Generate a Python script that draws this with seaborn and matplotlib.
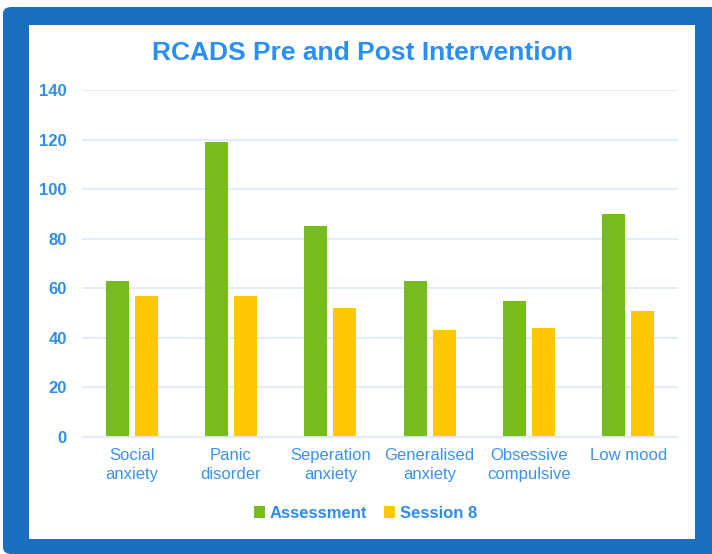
import matplotlib
matplotlib.use("Agg")
import matplotlib.pyplot as plt
from matplotlib.patches import FancyBboxPatch, Rectangle
import seaborn as sns
import pandas as pd

categories = ["Social\nanxiety", "Panic\ndisorder", "Seperation\nanxiety",
              "Generalised\nanxiety", "Obsessive\ncompulsive", "Low mood"]
assessment = [63, 119, 85, 63, 55, 90]
session_8 = [57, 57, 52, 43, 44, 51]
series_names = ["Assessment", "Session 8"]
y_ticks = [0, 20, 40, 60, 80, 100, 120, 140]

W, H = 712, 554
text_blue = "#2E8DEE"
frame_blue = "#1A6FC0"
grid_blue = "#DDEBFA"

df = pd.DataFrame({
    "category": categories * 2,
    "value": assessment + session_8,
    "series": [series_names[0]] * len(categories) + [series_names[1]] * len(categories),
})

sns.set_theme(style="white")
plt.rcParams["font.family"] = ["Liberation Sans", "DejaVu Sans"]

fig = plt.figure(figsize=(W / 100, H / 100), dpi=100)
fig.patch.set_facecolor("white")

# blue frame and white panel
fig.patches.append(FancyBboxPatch((3 / W, 0), (W + 20) / W, (H - 7) / H,
                                  boxstyle="round,pad=0,rounding_size=0.012",
                                  transform=fig.transFigure, facecolor=frame_blue,
                                  edgecolor="none", zorder=0))
fig.patches.append(Rectangle((29 / W, 1 - 539 / H), (695 - 29) / W, (539 - 25) / H,
                             transform=fig.transFigure, facecolor="white",
                             edgecolor="none", zorder=0.5))

ax = fig.add_axes([82 / W, 1 - 437 / H, (678 - 82) / W, (437 - 90) / H])
ax.set_facecolor("none")
ax.set_zorder(2)

sns.barplot(data=df, x="category", y="value", hue="series",
            palette=["#77BC1F", "#FFC800"], saturation=1, width=0.584, gap=0.207,
            edgecolor="none", ax=ax, legend=True)

ax.set_ylim(0, 140)
ax.set_yticks(y_ticks)
ax.set_xlim(-0.5, len(categories) - 0.5)
ax.yaxis.grid(True, color=grid_blue, linewidth=1.3)
ax.set_axisbelow(True)
for s in ["top", "right", "left"]:
    ax.spines[s].set_visible(False)
ax.spines["bottom"].set_color(grid_blue)
ax.spines["bottom"].set_linewidth(1.3)
ax.set_xlabel("")
ax.set_ylabel("")
ax.tick_params(axis="y", length=0, pad=11, labelsize=12, labelcolor=text_blue)
ax.tick_params(axis="x", length=0, pad=8, labelsize=12, labelcolor="#3A93EE")
for lab in ax.get_yticklabels():
    lab.set_fontweight("bold")
for lab in ax.get_xticklabels():
    lab.set_linespacing(1.3)

handles, labels = ax.get_legend_handles_labels()
ax.get_legend().remove()
leg = fig.legend(handles, labels, loc="center", bbox_to_anchor=(0.513, 1 - 513 / H),
                 ncol=2, frameon=False, handlelength=0.7, handleheight=0.7,
                 handletextpad=0.25, columnspacing=1.0, fontsize=12)
leg.set_zorder(3)
for t in leg.get_texts():
    t.set_color(text_blue)
    t.set_fontweight("bold")

fig.text(362.5 / W, 1 - 53 / H, "RCADS Pre and Post Intervention",
         ha="center", va="center", fontsize=19, fontweight="bold", color="#2A8FF4",
         zorder=3)

fig.savefig("out.png", dpi=100)
